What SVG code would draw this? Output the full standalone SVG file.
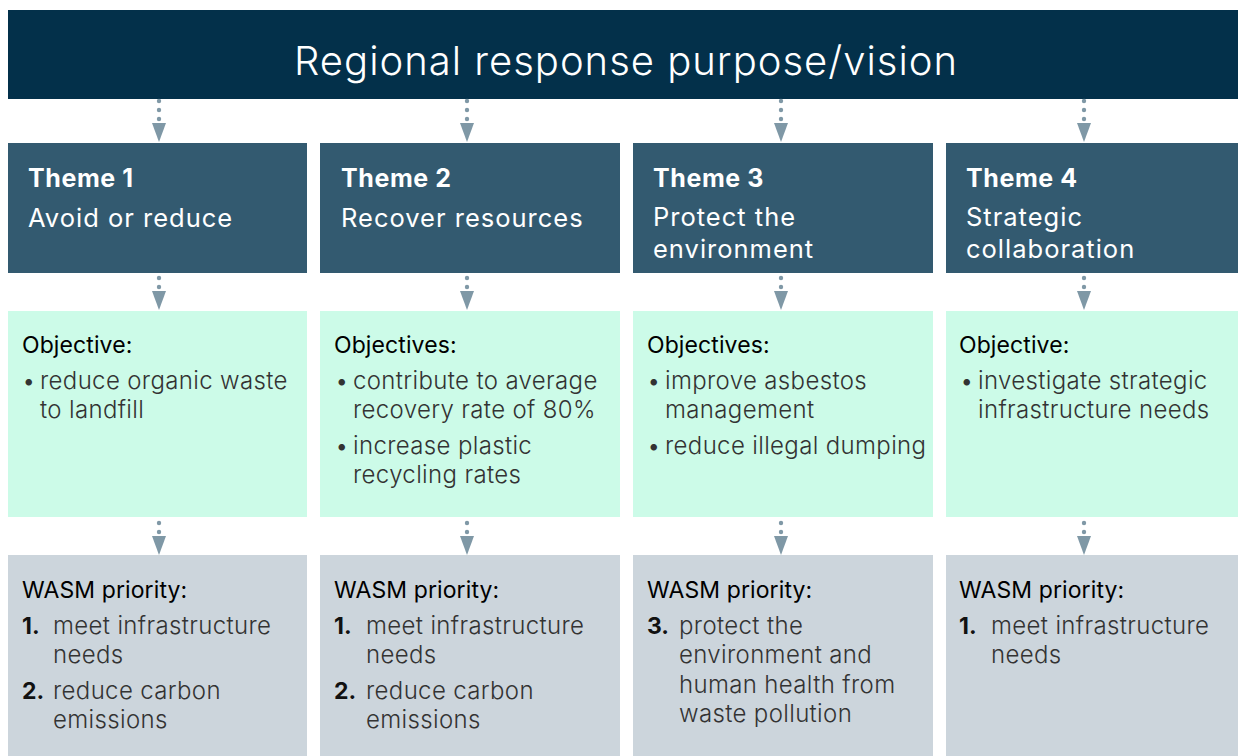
<svg xmlns="http://www.w3.org/2000/svg" width="1238" height="756" viewBox="0 0 1238 756">
<defs>
<style>
text{font-family:Inter,"Liberation Sans","Noto Sans",sans-serif}
.title{fill:#fff;font-size:40px;font-weight:300;letter-spacing:1px}
.th{fill:#fff;font-size:25px;font-weight:700;letter-spacing:0.6px}
.ts{fill:#fff;font-size:25.5px;font-weight:400;letter-spacing:1px}
.hd{fill:#000;font-size:23px;font-weight:400;letter-spacing:0.1px}
.bd{fill:#333;font-size:24px;font-weight:300;letter-spacing:0.35px}
.num{fill:#111;font-size:23px;font-weight:700}
.banner{fill:#03304a}
.theme{fill:#335a70}
.obj{fill:#ccfbe8}
.wasm{fill:#ccd5dc}
.dot{fill:#7f98a6}
</style>
<g id="arr">
<circle class="dot" cx="0" cy="0" r="2.2"/>
<circle class="dot" cx="0" cy="9" r="2.2"/>
<path d="M-7,13 L7,13 L0,32 Z" fill="#7f98a6"/>
</g>
</defs>
<rect width="1238" height="756" fill="#fff"/>

<g id="banner">
<rect class="banner" x="8" y="10" width="1230" height="89"/>
<text class="title" x="626" y="75" text-anchor="middle">Regional response purpose/vision</text>
</g>

<g id="theme1">
<rect class="theme" x="8" y="143" width="299" height="130"/>
<text class="th" x="28" y="187">Theme 1</text>
<text class="ts" x="28" y="227">Avoid or reduce</text>
</g>
<g id="theme2">
<rect class="theme" x="320" y="143" width="300" height="130"/>
<text class="th" x="341" y="187">Theme 2</text>
<text class="ts" x="341" y="227">Recover resources</text>
</g>
<g id="theme3">
<rect class="theme" x="633" y="143" width="300" height="130"/>
<text class="th" x="653" y="187">Theme 3</text>
<text class="ts" x="653" y="226">Protect the</text>
<text class="ts" x="653" y="258">environment</text>
</g>
<g id="theme4">
<rect class="theme" x="946" y="143" width="292" height="130"/>
<text class="th" x="966" y="187">Theme 4</text>
<text class="ts" x="966" y="226">Strategic</text>
<text class="ts" x="966" y="258">collaboration</text>
</g>

<g id="objective1">
<rect class="obj" x="8" y="311" width="299" height="206"/>
<text class="hd" x="22" y="353">Objective:</text>
<text class="bd" x="22" y="389">•</text>
<text class="bd" x="40" y="389">reduce organic waste</text>
<text class="bd" x="40" y="418">to landfill</text>
</g>
<g id="objective2">
<rect class="obj" x="320" y="311" width="300" height="206"/>
<text class="hd" x="334" y="353">Objectives:</text>
<text class="bd" x="335" y="389">•</text>
<text class="bd" x="353" y="389">contribute to average</text>
<text class="bd" x="353" y="418">recovery rate of 80%</text>
<text class="bd" x="335" y="454">•</text>
<text class="bd" x="353" y="454">increase plastic</text>
<text class="bd" x="353" y="483">recycling rates</text>
</g>
<g id="objective3">
<rect class="obj" x="633" y="311" width="300" height="206"/>
<text class="hd" x="647" y="353">Objectives:</text>
<text class="bd" x="647" y="389">•</text>
<text class="bd" x="665" y="389">improve asbestos</text>
<text class="bd" x="665" y="418">management</text>
<text class="bd" x="647" y="454">•</text>
<text class="bd" x="665" y="454">reduce illegal dumping</text>
</g>
<g id="objective4">
<rect class="obj" x="946" y="311" width="292" height="206"/>
<text class="hd" x="959" y="353">Objective:</text>
<text class="bd" x="960" y="389">•</text>
<text class="bd" x="978" y="389">investigate strategic</text>
<text class="bd" x="978" y="418">infrastructure needs</text>
</g>

<g id="wasm1">
<rect class="wasm" x="8" y="555" width="299" height="201"/>
<text class="hd" x="22" y="598">WASM priority:</text>
<text class="num" x="22" y="634">1.</text>
<text class="bd" x="53" y="634">meet infrastructure</text>
<text class="bd" x="53" y="663">needs</text>
<text class="num" x="22" y="699">2.</text>
<text class="bd" x="53" y="699">reduce carbon</text>
<text class="bd" x="53" y="728">emissions</text>
</g>
<g id="wasm2">
<rect class="wasm" x="320" y="555" width="300" height="201"/>
<text class="hd" x="334" y="598">WASM priority:</text>
<text class="num" x="334" y="634">1.</text>
<text class="bd" x="366" y="634">meet infrastructure</text>
<text class="bd" x="366" y="663">needs</text>
<text class="num" x="334" y="699">2.</text>
<text class="bd" x="366" y="699">reduce carbon</text>
<text class="bd" x="366" y="728">emissions</text>
</g>
<g id="wasm3">
<rect class="wasm" x="633" y="555" width="300" height="201"/>
<text class="hd" x="647" y="598">WASM priority:</text>
<text class="num" x="647" y="634">3.</text>
<text class="bd" x="679" y="634">protect the</text>
<text class="bd" x="679" y="663">environment and</text>
<text class="bd" x="679" y="693">human health from</text>
<text class="bd" x="679" y="722">waste pollution</text>
</g>
<g id="wasm4">
<rect class="wasm" x="946" y="555" width="292" height="201"/>
<text class="hd" x="959" y="598">WASM priority:</text>
<text class="num" x="959" y="634">1.</text>
<text class="bd" x="991" y="634">meet infrastructure</text>
<text class="bd" x="991" y="663">needs</text>
</g>

<g id="connectors">
<circle class="dot" cx="159" cy="101" r="2.2"/>
<circle class="dot" cx="467" cy="101" r="2.2"/>
<circle class="dot" cx="781" cy="101" r="2.2"/>
<circle class="dot" cx="1084" cy="101" r="2.2"/>
<use href="#arr" x="159" y="110"/>
<use href="#arr" x="467" y="110"/>
<use href="#arr" x="781" y="110"/>
<use href="#arr" x="1084" y="110"/>
<use href="#arr" x="159" y="278"/>
<use href="#arr" x="467" y="278"/>
<use href="#arr" x="781" y="278"/>
<use href="#arr" x="1084" y="278"/>
<use href="#arr" x="159" y="523"/>
<use href="#arr" x="467" y="523"/>
<use href="#arr" x="781" y="523"/>
<use href="#arr" x="1084" y="523"/>
</g>
</svg>
